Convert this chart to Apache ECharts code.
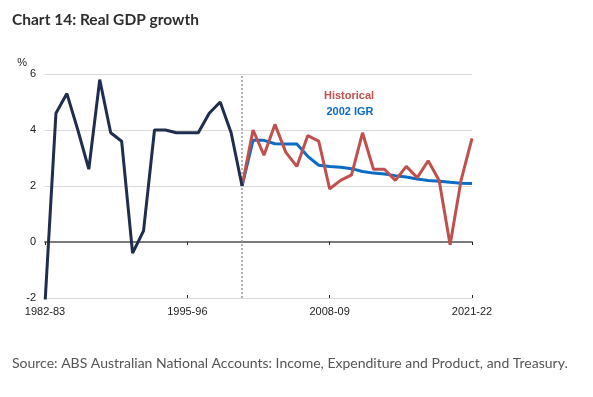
<!DOCTYPE html>
<html>
<head>
<meta charset="utf-8">
<script src="https://cdn.jsdelivr.net/npm/echarts@6/dist/echarts.min.js"></script>
<style>
html,body{margin:0;padding:0;background:#fff;}
#chart{width:593px;height:397px;}
</style>
</head>
<body>
<div id="chart"></div>
<script>
const categories = ['1982-83','1983-84','1984-85','1985-86','1986-87','1987-88','1988-89','1989-90','1990-91','1991-92',
  '1992-93','1993-94','1994-95','1995-96','1996-97','1997-98','1998-99','1999-00','2000-01','2001-02',
  '2002-03','2003-04','2004-05','2005-06','2006-07','2007-08','2008-09','2009-10','2010-11','2011-12',
  '2012-13','2013-14','2014-15','2015-16','2016-17','2017-18','2018-19','2019-20','2020-21','2021-22'];
// 1982-83 to 2000-01
const earlyGrowth = [-2.2,4.6,5.3,4.0,2.6,5.8,3.9,3.6,-0.4,0.4,4.0,4.0,3.9,3.9,3.9,4.6,5.0,3.9,2.0];
// 2000-01 to 2021-22
const historicalGrowth = [2.0,4.0,3.1,4.2,3.2,2.7,3.8,3.6,1.9,2.2,2.4,3.9,2.6,2.6,2.2,2.7,2.3,2.9,2.2,-0.1,2.2,3.7];
const igrProjection = [2.0,3.63,3.63,3.51,3.5,3.5,3.06,2.74,2.7,2.67,2.62,2.52,2.46,2.43,2.37,2.32,2.25,2.2,2.17,2.13,2.1,2.09];
const tickLabelIdx = [0,13,26,39];
const splitIdx = 18;
const yTicks = {min:-2, max:6, interval:2};

const darkData = categories.map((c,i)=> i < earlyGrowth.length ? earlyGrowth[i] : null);
const histData = categories.map((c,i)=> i >= splitIdx ? historicalGrowth[i-splitIdx] : null);
const igrData = categories.map((c,i)=> i >= splitIdx ? igrProjection[i-splitIdx] : null);
const showIdx = (i)=> tickLabelIdx.indexOf(i) >= 0;

const chart = echarts.init(document.getElementById('chart'), null, {renderer:'canvas'});
const axisFont = 'Liberation Sans, Arial, sans-serif';
chart.setOption({
  animation:false,
  backgroundColor:'#fff',
  title:[
    {text:'Chart 14: Real GDP growth', left:7, top:7,
     textStyle:{fontFamily:'Lato, sans-serif', fontWeight:'bold', fontSize:15.5, color:'#2e2e2e'}},
    {text:'Source: ABS Australian National Accounts: Income, Expenditure and Product, and Treasury.', left:7, top:351,
     textStyle:{fontFamily:'Lato, sans-serif', fontWeight:'normal', fontSize:14, color:'#555'}}
  ],
  graphic:[
    {type:'text', x:349, y:96, style:{text:'Historical', fill:'#c0504d', font:'bold 11px Liberation Sans, Arial, sans-serif', align:'center', verticalAlign:'middle'}},
    {type:'text', x:350, y:112, style:{text:'2002 IGR', fill:'#0a6cc4', font:'bold 11px Liberation Sans, Arial, sans-serif', align:'center', verticalAlign:'middle'}}
  ],
  grid:{left:45, right:121, top:74, bottom:99},
  xAxis:[
    {type:'category', data:categories, boundaryGap:false, position:'bottom',
     axisLine:{show:false, onZero:false}, axisTick:{show:false}, splitLine:{show:false},
     axisLabel:{interval:(i)=>showIdx(i), color:'#222', fontFamily:axisFont, fontSize:11, margin:8}},
    {type:'category', data:categories, boundaryGap:false, position:'bottom',
     axisLine:{show:true, onZero:true, lineStyle:{color:'#7a7a7a', width:2}},
     axisTick:{show:true, interval:(i)=>showIdx(i), length:3, lineStyle:{color:'#222', width:1}},
     axisLabel:{show:false}, splitLine:{show:false}},
    {type:'category', data:categories, boundaryGap:false, position:'bottom',
     axisLine:{show:false, onZero:true},
     axisTick:{show:true, inside:true, interval:(i)=>showIdx(i), length:3, lineStyle:{color:'#222', width:1}},
     axisLabel:{show:false}, splitLine:{show:false}}
  ],
  yAxis:{type:'value', min:yTicks.min, max:yTicks.max, interval:yTicks.interval,
    name:'%', nameLocation:'end', nameGap:5,
    nameTextStyle:{fontFamily:axisFont, fontSize:11, color:'#222', align:'right', padding:[0,18,0,0]},
    axisLine:{show:false}, axisTick:{show:false},
    axisLabel:{color:'#222', fontFamily:axisFont, fontSize:11, margin:9},
    splitLine:{lineStyle:{color:'#d9d9d9', width:1}}},
  series:[
    {name:'2002 IGR', type:'line', data:igrData, symbol:'none', xAxisIndex:0,
     lineStyle:{color:'#0a6cc4', width:3}, z:3},
    {name:'Historical', type:'line', data:histData, symbol:'none', xAxisIndex:0,
     lineStyle:{color:'#c0504d', width:3}, z:4},
    {name:'Historical (pre)', type:'line', data:darkData, symbol:'none', xAxisIndex:0,
     lineStyle:{color:'#1f2d4e', width:3}, z:5,
     markLine:{silent:true, symbol:'none', label:{show:false},
       lineStyle:{color:'#999', type:[2,2], width:1.5},
       data:[{xAxis:splitIdx}]}}
  ]
});
</script>
</body>
</html>
